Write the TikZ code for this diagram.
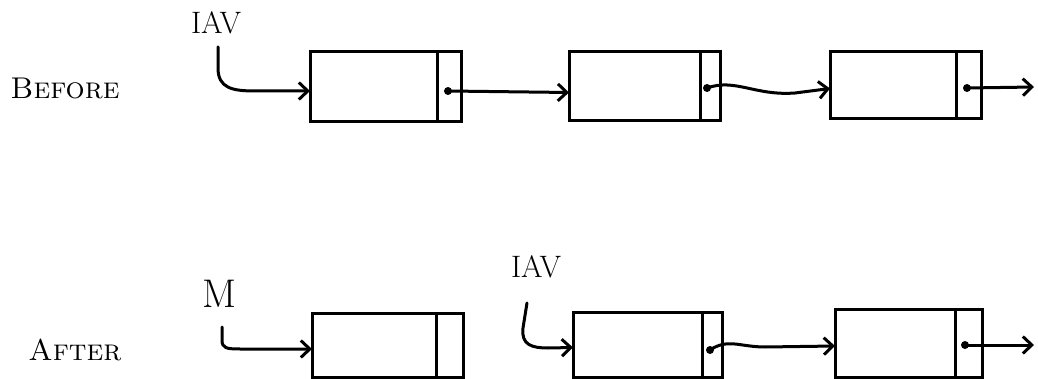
\documentclass[tikz,border=0pt]{standalone}
\usepackage{fontspec}
\usetikzlibrary{arrows.meta}
\begin{document}
\begin{tikzpicture}[x=1pt,y=-1pt,
 cell/.style={draw, line width=3pt, inner sep=0pt, outer sep=0pt},
 datacell/.style={cell},
 ptrcell/.style={cell, anchor=west},
 ptrdot/.style={circle, fill, inner sep=0pt, minimum size=8pt},
 link/.style={line width=3pt, -{Straight Barb[length=9pt,width=17pt]}, line cap=round, line join=round},
 lbl/.style={inner sep=0pt, font=\fontsize{30}{32}\selectfont\scshape},
 ptrlbl/.style={inner sep=0pt, font=\fontsize{31}{33}\selectfont}]
\useasboundingbox (0,0) rectangle (1038,379);

% ---------- BEFORE ----------
\node[lbl] (before) at (65,88) {Before};
\node[ptrlbl] (iav1) at (216,23) {IAV};

\node[datacell, minimum height=70pt, minimum width=127pt] (b1) at (373.5,87) {};
\node[ptrcell, minimum height=70pt, minimum width=24pt] (b1p) at (b1.east) {};
\node[datacell, minimum height=69pt, minimum width=131pt] (b2) at (634.5,86.5) {};
\node[ptrcell, minimum height=69pt, minimum width=20pt] (b2p) at (b2.east) {};
\node[datacell, minimum height=67pt, minimum width=126pt] (b3) at (893,85.5) {};
\node[ptrcell, minimum height=67pt, minimum width=25pt] (b3p) at (b3.east) {};

\node[ptrdot] (d1) at (448,91) {};
\node[ptrdot] (d2) at (707,88) {};
\node[ptrdot] (d3) at (967,88) {};

\coordinate (s1) at (218,47);
\draw[link] (s1) -- (218,68) .. controls (218,88) and (232,91) .. (255,91) -- ([yshift=-4pt]b1.west);
\draw[link] (d1.center) -- ([yshift=-6pt]b2.west);
\draw[link] (d2.center) .. controls (735,78) and (755,96) .. (795,93) -- ([yshift=-3pt]b3.west);
\coordinate (e1) at (1034,87);
\draw[link] (d3.center) -- (e1);

% ---------- AFTER ----------
\node[lbl] (after) at (75,350) {After};
\node[inner sep=0pt, font=\fontsize{40}{42}\selectfont] (m) at (219,294) {M};
\node[ptrlbl] (iav2) at (536,267) {IAV};

\node[datacell, minimum height=64pt, minimum width=124pt] (a1) at (374,345) {};
\node[ptrcell, minimum height=64pt, minimum width=27pt] (a1p) at (a1.east) {};
\node[datacell, minimum height=65pt, minimum width=129pt] (a2) at (637.5,344.5) {};
\node[ptrcell, minimum height=65pt, minimum width=20pt] (a2p) at (a2.east) {};
\node[datacell, minimum height=68pt, minimum width=120pt] (a3) at (895,343) {};
\node[ptrcell, minimum height=68pt, minimum width=27pt] (a3p) at (a3.east) {};

\node[ptrdot] (da2) at (710,350) {};
\node[ptrdot] (da3) at (965,345) {};

\coordinate (s2) at (222,327);
\draw[link] (s2) -- (222,340) .. controls (222,348) and (226,349) .. (240,349) -- ([yshift=-4pt]a1.west);
\coordinate (s3) at (527,303);
\draw[link] (s3) -- (523,328) .. controls (521,345) and (532,348) .. (548,348) -- ([yshift=-3pt]a2.west);
\draw[link] (da2.center) .. controls (728,338) and (740,347) .. (765,347) -- ([yshift=-3pt]a3.west);
\coordinate (e2) at (1034,345);
\draw[link] (da3.center) -- (e2);
\end{tikzpicture}
\end{document}
